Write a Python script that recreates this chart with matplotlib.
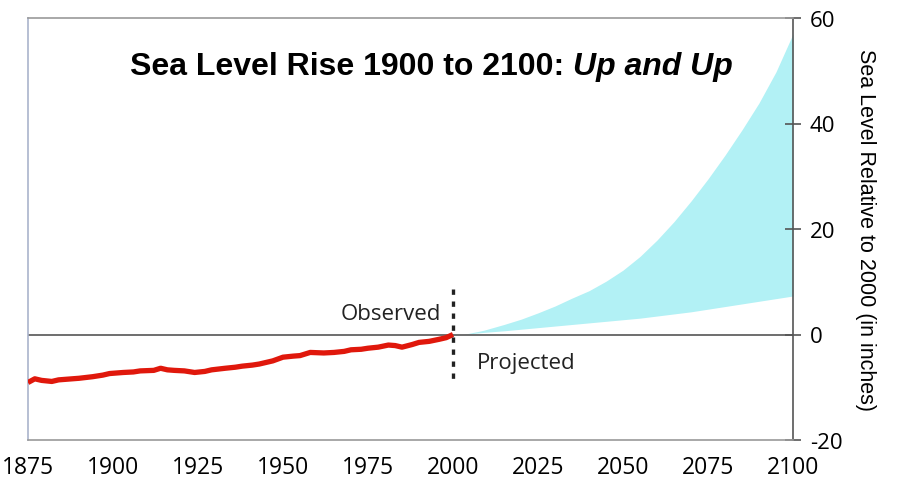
import matplotlib
matplotlib.use("Agg")
import matplotlib.pyplot as plt

# Observed sea level (inches relative to 2000)
obs_years = [1875, 1877, 1879, 1882, 1884, 1886, 1890, 1894, 1897, 1899, 1903, 1906, 1908,
             1912, 1914, 1916, 1918, 1921, 1924, 1927, 1929, 1933, 1936, 1938, 1941, 1943,
             1947, 1950, 1953, 1955, 1958, 1962, 1965, 1968, 1970, 1973, 1975, 1978, 1981,
             1983, 1985, 1988, 1990, 1993, 1996, 1998, 2000]
obs_values = [-9.1, -8.4, -8.7, -8.9, -8.6, -8.5, -8.3, -8.0, -7.7, -7.4, -7.2, -7.1, -6.9,
              -6.8, -6.4, -6.7, -6.8, -6.9, -7.2, -7.0, -6.7, -6.4, -6.2, -6.0, -5.8, -5.6,
              -5.0, -4.3, -4.1, -4.0, -3.4, -3.5, -3.4, -3.2, -2.9, -2.8, -2.6, -2.4, -2.0,
              -2.1, -2.4, -1.9, -1.5, -1.3, -0.9, -0.6, 0.0]

# Projected range
proj_years = [2003, 2009, 2015, 2020, 2025, 2030, 2035, 2040, 2045, 2050, 2055, 2060,
              2065, 2070, 2075, 2080, 2085, 2090, 2095, 2100]
proj_high = [0.0, 0.8, 1.9, 2.9, 4.1, 5.4, 6.9, 8.3, 10.1, 12.2, 14.8, 17.9,
             21.4, 25.3, 29.5, 34.0, 38.8, 43.9, 49.8, 57.0]
proj_low = [0.0, 0.4, 0.7, 1.0, 1.3, 1.6, 1.9, 2.2, 2.5, 2.8, 3.1, 3.5,
            3.9, 4.3, 4.8, 5.3, 5.8, 6.3, 6.8, 7.3]

x_ticks = [1875, 1900, 1925, 1950, 1975, 2000, 2025, 2050, 2075, 2100]
y_ticks = [-20, 0, 20, 40, 60]

fig = plt.figure(figsize=(9.13, 4.81), dpi=100)
ax = fig.add_axes([28/913, 1-441/481, (793-28)/913, (441-19)/481])

ax.fill_between(proj_years, proj_low, proj_high, color="#b2f1f5", lw=0)
ax.axhline(0, color="#555555", lw=1.2, zorder=2)
ax.plot(obs_years, obs_values, color="#e0180c", lw=3.8, zorder=3,
        solid_capstyle="butt", solid_joinstyle="round")
ax.plot([2000, 2000], [8.7, -9.0], color="#222222", lw=2.4, ls=(0, (1.6, 2.0)), zorder=4)

ax.set_xlim(1875, 2100)
ax.set_ylim(-20, 60)

ax.set_xticks(x_ticks)
ax.set_xticklabels([str(t) for t in x_ticks], fontfamily="Open Sans", fontsize=16.5)
ax.tick_params(axis="x", length=0, pad=11)

ax.yaxis.tick_right()
ax.set_yticks(y_ticks)
ax.set_yticklabels([str(t) for t in y_ticks], fontfamily="Open Sans", fontsize=16)
ax.tick_params(axis="y", direction="inout", length=12, width=1.2, color="#555555", pad=6)

for side, c in [("left", "#aab4cc"), ("top", "#999999"), ("bottom", "#999999"), ("right", "#555555")]:
    ax.spines[side].set_color(c)
    ax.spines[side].set_linewidth(1.2)

ax.yaxis.set_label_position("right")
ax.set_ylabel("Sea Level Relative to 2000 (in inches)", rotation=-90, fontsize=15.5,
              fontfamily="Liberation Sans", labelpad=24)

ax.text(1996.5, 4.0, "Observed", ha="right", va="center", fontsize=16, fontfamily="Open Sans", color="#222222")
ax.text(2007.0, -5.4, "Projected", ha="left", va="center", fontsize=16, fontfamily="Open Sans", color="#222222")

fig.text(130/913, 1-67/481, "Sea Level Rise 1900 to 2100: ", fontsize=23, fontweight="bold",
         fontfamily="Liberation Sans", ha="left", va="center")
t1 = fig.texts[-1]
fig.canvas.draw()
bb = t1.get_window_extent()
fig.text(bb.x1/fig.bbox.width, 1-67/481, "Up and Up", fontsize=23, fontweight="bold", fontstyle="italic",
         fontfamily="Liberation Sans", ha="left", va="center")

fig.savefig("out.png", dpi=100)
